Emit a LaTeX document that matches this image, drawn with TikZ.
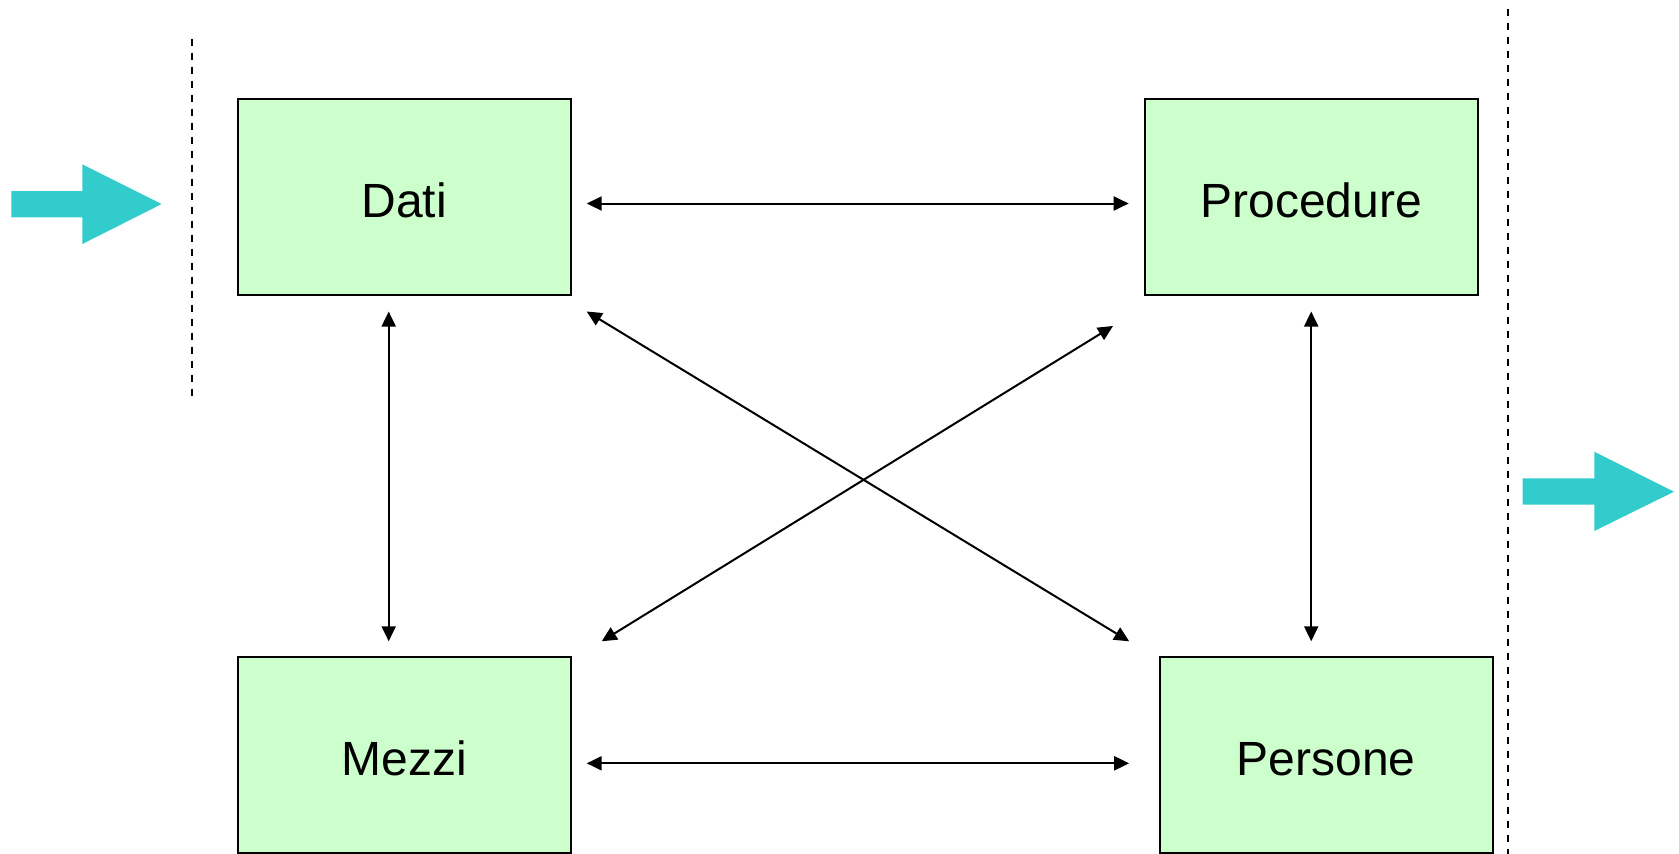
\documentclass[tikz,border=0pt]{standalone}
\usepackage{fontspec}
\setmainfont{Liberation Sans}
\usetikzlibrary{arrows.meta}
\definecolor{boxfill}{HTML}{CCFFCC}
\definecolor{teal}{HTML}{33CCCC}
\tikzset{
  block/.style={draw=black, line width=2pt, fill=boxfill, minimum width=333pt, minimum height=196pt, inner sep=0pt},
  blocklabel/.style={font=\fontsize{48}{57}\selectfont, inner sep=0pt},
  link/.style={line width=2pt, {Triangle[length=15pt,width=14pt]}-{Triangle[length=15pt,width=14pt]}},
  sep/.style={line width=2pt, dash pattern=on 7pt off 7pt},
  bigarrow/.style={fill=teal, draw=none}
}
\begin{document}
\begin{tikzpicture}[x=1pt,y=-1pt]
\useasboundingbox (0,0) rectangle (1679,854);
\node[block] (dati) at (404.2,196.5) {};
\node[block] (proc) at (1311.2,196.5) {};
\node[block] (mezzi) at (404.2,755.3) {};
\node[block] (pers) at (1326.3,755.3) {};
\node[blocklabel] (datiT) at ([yshift=-3.5pt]dati.center) {Dati};
\node[blocklabel] (procT) at ([yshift=-3.5pt]proc.center) {Procedure};
\node[blocklabel] (mezziT) at ([yshift=-3.5pt]mezzi.center) {Mezzi};
\node[blocklabel] (persT) at ([yshift=-3.5pt]pers.center) {Persone};
% connectors
\draw[link] ([shift={(15,7)}]dati.east) -- ([shift={(-15,7)}]proc.west);
\draw[link] ([shift={(15,8)}]mezzi.east) -- ([shift={(-29.6,8)}]mezzi.east -| pers.west);
\draw[link] ([shift={(-15.5,16)}]dati.south) -- ([shift={(-15.5,-15)}]mezzi.north);
\draw[link] ([shift={(0,16)}]proc.south) -- ([shift={(0,-15)}]proc.south |- pers.north);
\draw[link] ([shift={(15,16)}]dati.south east) -- ([shift={(-29.6,-15)}]pers.north west);
\draw[link] ([shift={(30,-15)}]mezzi.north east) -- ([shift={(-30.7,30.5)}]proc.south west);
% separators
\coordinate (sepLa) at (192.3,38.5);
\coordinate (sepLb) at (192.3,401.5);
\coordinate (sepRa) at (1508.3,8.6);
\coordinate (sepRb) at (1508.3,854);
\draw[sep] (sepLa) -- (sepLb);
\draw[sep] (sepRa) -- (sepRb);
% big arrows
\fill[bigarrow] (11.3,191) -- (82.3,191) -- (82.3,164.3) -- (161.7,204) -- (82.3,244) -- (82.3,217.3) -- (11.3,217.3) -- cycle;
\fill[bigarrow] (1522.7,478.3) -- (1594.3,478.3) -- (1594.3,451.7) -- (1674,491.7) -- (1594.3,531) -- (1594.3,504.7) -- (1522.7,504.7) -- cycle;
\end{tikzpicture}
\end{document}
